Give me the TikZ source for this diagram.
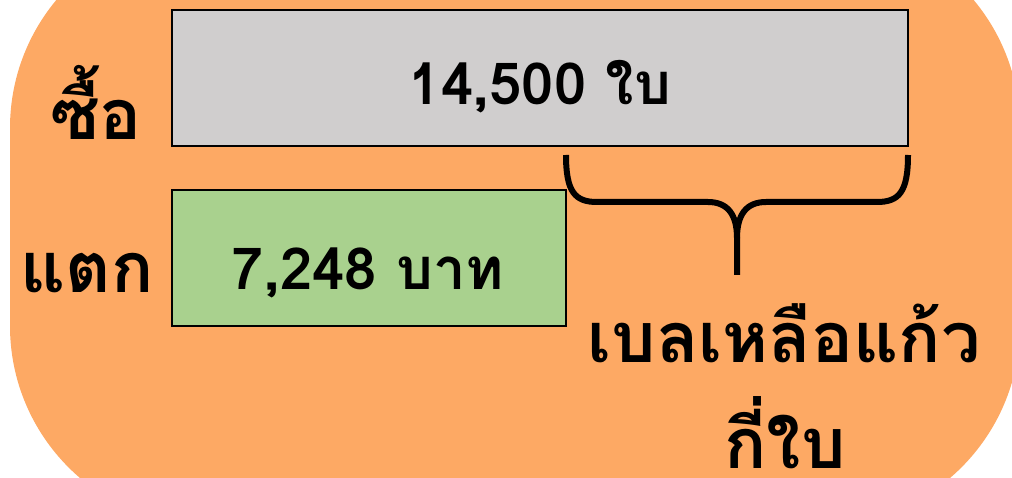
\documentclass[tikz,border=0pt]{standalone}
\usepackage{fontspec}
\newfontfamily\thaifont[Script=Thai]{Loma}
\definecolor{bgorange}{HTML}{FDA964}
\definecolor{boxgray}{HTML}{D0CECE}
\definecolor{boxgreen}{HTML}{A9D18E}
\begin{document}
\begin{tikzpicture}[x=1pt,y=-1pt,
  databox/.style={draw=black,line width=2pt,inner sep=0pt,minimum height=136pt},
  boxtext/.style={anchor=base,inner sep=0pt,font=\thaifont\bfseries\fontsize{58}{60}\selectfont},
  bigtext/.style={anchor=base,inner sep=0pt,font=\thaifont\bfseries\fontsize{70}{72}\selectfont},
  bracestyle/.style={line width=6pt,line cap=butt}]
\useasboundingbox (0,0) rectangle (1012,478);
\clip (0,0) rectangle (1012,478);
\fill[bgorange,rounded corners=200pt] (10,-72) rectangle (1020,526);
\node[databox,fill=boxgray,minimum width=736pt] (buy) at (540,78) {};
\node[databox,fill=boxgreen,minimum width=394pt] (broken) at (369,258) {};
\node[boxtext] (buytxt) at (540,105) {14,500 ใบ};
\node[boxtext] (brktxt) at (368,290) {7,248 บาท};
\node[bigtext] (buylbl) at (96,140) {ซื้อ};
\node[bigtext] (brklbl) at (87,293) {แตก};
\node[bigtext] (q1) at (784,362) {เบลเหลือแก้ว};
\node[bigtext] (q2) at (785,468) {กี่ใบ};
\coordinate (bl) at (566,155);
\coordinate (br) at (908,155);
\coordinate (tip) at (737,275);
\draw[bracestyle] (bl) .. controls (566,192) and (575,202) .. (597,202) -- (708,202)
  .. controls (728,202) and (737,215) .. (737,238) -- (tip);
\draw[bracestyle] (br) .. controls (908,192) and (899,202) .. (877,202) -- (766,202)
  .. controls (746,202) and (737,215) .. (737,238);
\end{tikzpicture}
\end{document}
